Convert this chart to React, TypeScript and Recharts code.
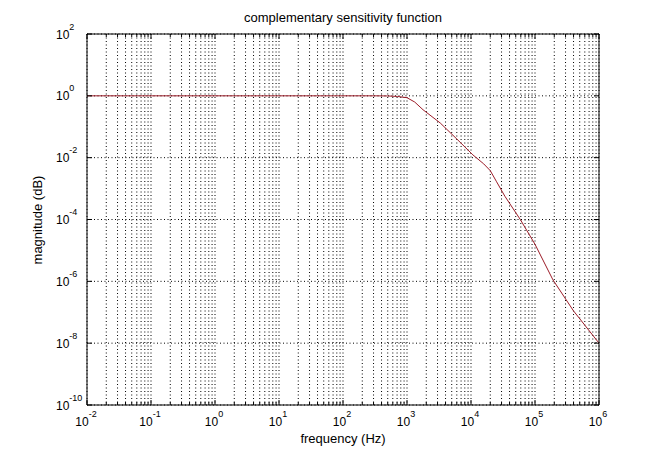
import { LineChart, Line, XAxis, YAxis, CartesianGrid } from 'recharts';

// values (Hz, linear magnitude)
const freqHz = [
  0.01, 0.1, 1, 10, 100, 316, 500, 708, 1000, 1320, 1780, 3310, 6030, 10700,
  15800, 20000, 25100, 33900, 58900, 100000, 190500, 398000, 1000000,
];
const magnitude = [
  1, 1, 1, 1, 1, 1, 0.99, 0.955, 0.87, 0.63, 0.355, 0.132, 0.0398, 0.0123,
  0.0063, 0.0038, 0.00166, 0.000562, 0.0001, 1.58e-5, 1.12e-6, 1.12e-7, 1e-8,
];

const xMajorTicks = [1e-2, 1e-1, 1, 1e1, 1e2, 1e3, 1e4, 1e5, 1e6];
const yTicks = [1e-10, 1e-8, 1e-6, 1e-4, 1e-2, 1, 1e2];

const xTicks = xMajorTicks.flatMap((d, i) =>
  i === xMajorTicks.length - 1 ? [d] : [1, 2, 3, 4, 5, 6, 7, 8, 9].map((m) => m * d)
);

const data = freqHz.map((f, i) => ({ f, mag: magnitude[i] }));

const FONT = '"Liberation Sans", Arial, Helvetica, sans-serif';
const LINE_COLOR = '#9c1c28';

const isMajor = (v: number) => Math.abs(Math.log10(v) - Math.round(Math.log10(v))) < 1e-9;
const expOf = (v: number) => String(Math.round(Math.log10(v)));

function BottomTick({ x, y, payload }: any) {
  const v = payload.value;
  const major = isMajor(v);
  return (
    <g>
      <line x1={x} y1={y} x2={x} y2={y - (major ? 5 : 3)} stroke="#000" />
      {major && (
        <text x={x - 1} y={y + 21} textAnchor="middle" fontSize={12} fontFamily={FONT} fill="#000">
          <tspan>10</tspan>
          <tspan dy={-9} fontSize={9}>{expOf(v)}</tspan>
        </text>
      )}
    </g>
  );
}

function TopTick({ x, y, payload }: any) {
  const major = isMajor(payload.value);
  return <line x1={x} y1={y} x2={x} y2={y + (major ? 5 : 3)} stroke="#000" />;
}

function LeftTick({ x, y, payload }: any) {
  return (
    <g>
      <line x1={x} y1={y} x2={x + 5} y2={y} stroke="#000" />
      <text x={x - 31} y={y + 4.5} textAnchor="start" fontSize={12} fontFamily={FONT} fill="#000">
        <tspan>10</tspan>
        <tspan dy={-9} fontSize={9}>{expOf(payload.value)}</tspan>
      </text>
    </g>
  );
}

function RightTick({ x, y }: any) {
  return <line x1={x} y1={y} x2={x - 5} y2={y} stroke="#000" />;
}

export default function App() {
  return (
    <div style={{ position: 'absolute', left: 0, top: 0, width: 662, height: 454, background: '#fff', fontFamily: FONT }}>
      <div
        style={{
          position: 'absolute', left: 87, width: 512, top: 10, textAlign: 'center',
          fontSize: 13, lineHeight: '16px', color: '#000',
        }}
      >
        complementary sensitivity function
      </div>
      <div
        style={{
          position: 'absolute', left: 87, width: 512, top: 431, textAlign: 'center',
          fontSize: 13, lineHeight: '16px', color: '#000',
        }}
      >
        frequency (Hz)
      </div>
      <div
        style={{
          position: 'absolute', left: 38 - 60, top: 220 - 8, width: 120, textAlign: 'center',
          fontSize: 13, lineHeight: '16px', color: '#000', transform: 'rotate(-90deg)',
        }}
      >
        magnitude (dB)
      </div>
      <LineChart width={662} height={454} data={data} margin={{ top: 30, right: 59, bottom: 19, left: 47 }}>
        <CartesianGrid stroke="#000" strokeDasharray="1 2.5" />
        <XAxis
          dataKey="f"
          type="number"
          scale="log"
          domain={[1e-2, 1e6]}
          allowDataOverflow
          ticks={xTicks}
          interval={0}
          height={30}
          tickSize={0}
          tickMargin={0}
          tickLine={false}
          axisLine={{ stroke: '#000' }}
          tick={<BottomTick />}
        />
        <XAxis
          xAxisId="top"
          orientation="top"
          dataKey="f"
          type="number"
          scale="log"
          domain={[1e-2, 1e6]}
          allowDataOverflow
          ticks={xTicks}
          interval={0}
          height={4}
          tickSize={0}
          tickMargin={0}
          tickLine={false}
          axisLine={{ stroke: '#000' }}
          tick={<TopTick />}
        />
        <YAxis
          type="number"
          scale="log"
          domain={[1e-10, 1e2]}
          allowDataOverflow
          ticks={yTicks}
          interval={0}
          width={40}
          tickSize={0}
          tickMargin={0}
          tickLine={false}
          axisLine={{ stroke: '#000' }}
          tick={<LeftTick />}
        />
        <YAxis
          yAxisId="right"
          orientation="right"
          type="number"
          scale="log"
          domain={[1e-10, 1e2]}
          allowDataOverflow
          ticks={yTicks}
          interval={0}
          width={4}
          tickSize={0}
          tickMargin={0}
          tickLine={false}
          axisLine={{ stroke: '#000' }}
          tick={<RightTick />}
        />
        <Line
          type="linear"
          dataKey="mag"
          stroke={LINE_COLOR}
          strokeWidth={1}
          dot={false}
          isAnimationActive={false}
        />
      </LineChart>
    </div>
  );
}
